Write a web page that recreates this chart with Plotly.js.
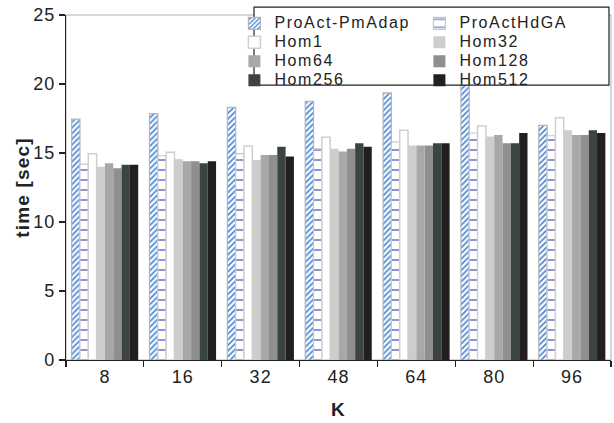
<!DOCTYPE html>
<html>
<head>
<meta charset="utf-8">
<script src="https://cdn.plot.ly/plotly-3.0.1.min.js"></script>
<style>
html,body{margin:0;padding:0;background:#fff;}
#chart{width:614px;height:423px;}
#chart .legendtext{font-size:16px !important; letter-spacing:1.6px;}
#chart g.xtick text, #chart g.ytick text{letter-spacing:1px;}
#chart .g-ytitle text, #chart .g-xtitle text{letter-spacing:1.2px;}
</style>
</head>
<body>
<div id="chart"></div>
<script>
var categories = ['8','16','32','48','64','80','96'];
var seriesNames = ['ProAct-PmAdap','ProActHdGA','Hom1','Hom32','Hom64','Hom128','Hom256','Hom512'];
var pmAdap  = [17.45, 17.85, 18.3, 18.75, 19.35, 20.0, 17.0];
var hdGA    = [14.2, 14.8, 14.95, 15.3, 15.8, 16.45, 16.25];
var hom1    = [14.95, 15.05, 15.5, 16.15, 16.65, 16.95, 17.55];
var hom32   = [14.0, 14.55, 14.5, 15.3, 15.55, 16.2, 16.65];
var hom64   = [14.25, 14.4, 14.85, 15.1, 15.55, 16.3, 16.3];
var hom128  = [13.9, 14.4, 14.85, 15.3, 15.55, 15.7, 16.3];
var hom256  = [14.15, 14.25, 15.45, 15.7, 15.7, 15.7, 16.65];
var hom512  = [14.15, 14.4, 14.75, 15.45, 15.7, 16.45, 16.45];
var yTicks  = [0, 5, 10, 15, 20, 25];

var values = [pmAdap, hdGA, hom1, hom32, hom64, hom128, hom256, hom512];
var markers = [
  {color:'#ffffff', line:{color:'#b4b4b4', width:1.2},
   pattern:{shape:'/', fgcolor:'#4f8ad6', bgcolor:'#ffffff', size:4, solidity:0.45, fillmode:'replace'}},
  {color:'#ffffff', line:{color:'#c8c8c8', width:1.2},
   pattern:{shape:'-', fgcolor:'#7f89cc', bgcolor:'#ffffff', size:10, solidity:0.18, fillmode:'replace'}},
  {color:'#ffffff', line:{color:'#cfcfcf', width:1.5}},
  {color:'#cdcdcd', line:{width:0}},
  {color:'#a8a8a8', line:{width:0}},
  {color:'#8f8f8f', line:{width:0}},
  {color:'#3a4543', line:{width:0}},
  {color:'#231f20', line:{width:0}}
];

var traces = values.map(function(v, i){
  return {type:'bar', name:seriesNames[i], x:categories, y:v, marker:markers[i]};
});

var font = 'Liberation Sans, Arial, sans-serif';
var layout = {
  width:614, height:423,
  margin:{l:66, r:3, t:15, b:63, autoexpand:false},
  paper_bgcolor:'#ffffff', plot_bgcolor:'#ffffff',
  font:{family:font, color:'#222222'},
  barmode:'group', bargap:0.145, bargroupgap:0,
  showlegend:true,
  legend:{orientation:'h', x:0.309, xanchor:'left', y:1.018, yanchor:'top',
    bgcolor:'rgba(0,0,0,0)', borderwidth:0, entrywidth:140, tracegroupgap:0,
    font:{family:font, size:12, color:'#222222'}},
  xaxis:{type:'category', tickson:'boundaries', ticks:'outside', ticklen:6, tickwidth:1.2, tickcolor:'#222',
    showline:true, linecolor:'#222', linewidth:1.2, showgrid:false, zeroline:false,
    tickfont:{family:font, size:18, color:'#222'},
    title:{text:'K', font:{family:font, size:19, color:'#222', weight:'bold'}, standoff:17}},
  yaxis:{range:[0,25], tickvals:yTicks, ticks:'outside', ticklen:6, tickwidth:1.2, tickcolor:'#222',
    showline:true, linecolor:'#222', linewidth:1.2, showgrid:false, zeroline:false,
    tickfont:{family:font, size:18, color:'#222'},
    title:{text:'time [sec]', font:{family:font, size:19, color:'#222', weight:'bold'}, standoff:0}},
  shapes:[
    {type:'rect', xref:'paper', yref:'paper', x0:0, x1:1, y0:0, y1:1, line:{color:'#b0b0b0', width:1}, layer:'below'},
    {type:'rect', xref:'paper', yref:'paper', x0:0.345, x1:0.9963, y0:0.797, y1:1.023, line:{color:'#222', width:1.2}, fillcolor:'#ffffff', layer:'above'}
  ]
};

Plotly.newPlot('chart', traces, layout, {displayModeBar:false, staticPlot:true});
</script>
</body>
</html>
